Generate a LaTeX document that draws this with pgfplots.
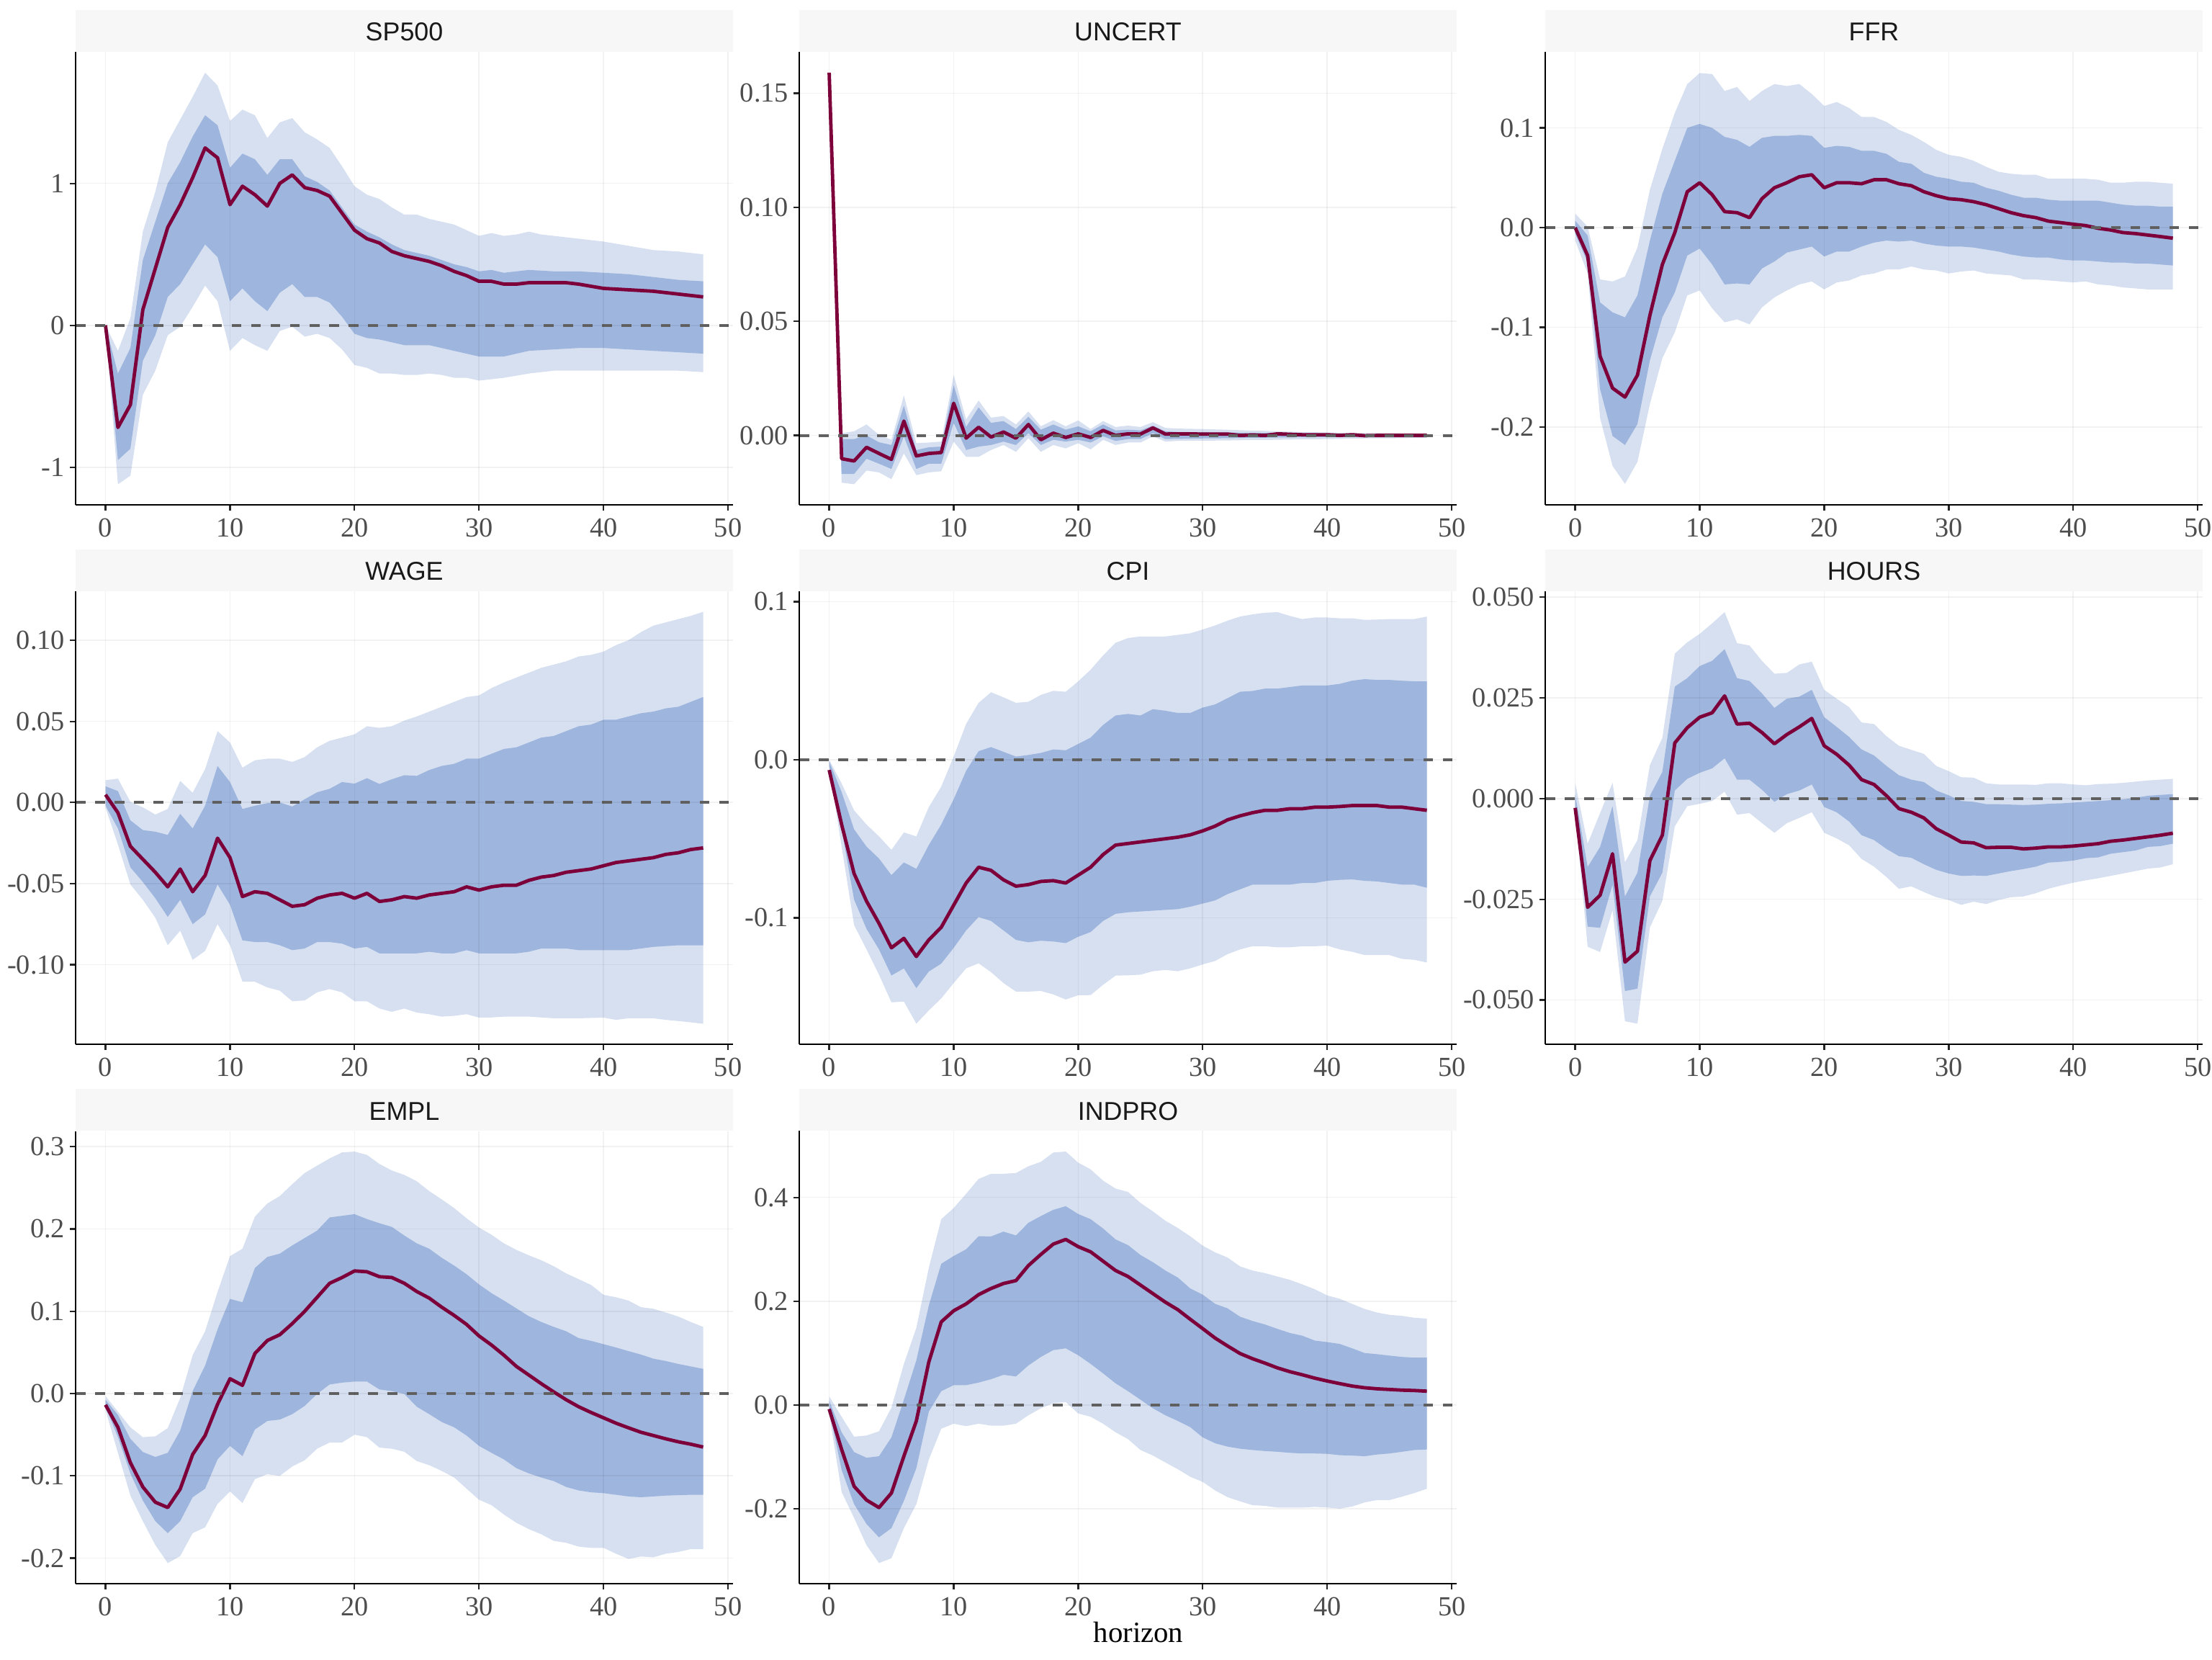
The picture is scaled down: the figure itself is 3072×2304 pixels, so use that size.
\documentclass[border=0pt]{standalone}
\usepackage{fontspec}
\setmainfont{Liberation Serif}
\newfontfamily\stripfont{Liberation Sans}
\usepackage{pgfplots}
\usepackage{pgfplotstable}
\usepgfplotslibrary{fillbetween}
\pgfplotsset{compat=1.18}
\definecolor{medc}{RGB}{125,0,58}
\definecolor{innerc}{RGB}{158,181,222}
\definecolor{outerc}{RGB}{214,224,241}
\definecolor{stripbg}{RGB}{247,247,247}
\definecolor{tickc}{RGB}{77,77,77}
\definecolor{zeroc}{RGB}{100,100,100}
\newcommand\ticfont{\fontsize{9.2bp}{10bp}\selectfont}

\pgfplotstableread{
h m l1 u1 l2 u2
0 0 0 0 0 0
1 -0.72 -0.95 -0.34 -1.12 -0.18
2 -0.56 -0.87 -0.16 -1.06 0.05
3 0.11 -0.25 0.46 -0.49 0.66
4 0.40 -0.07 0.73 -0.32 0.94
5 0.69 0.20 1.00 -0.07 1.29
6 0.85 0.29 1.15 -0.01 1.45
7 1.04 0.43 1.33 0.13 1.61
8 1.25 0.57 1.48 0.28 1.78
9 1.18 0.48 1.41 0.17 1.69
10 0.85 0.17 1.11 -0.18 1.44
11 0.98 0.26 1.21 -0.09 1.52
12 0.92 0.17 1.17 -0.14 1.48
13 0.84 0.10 1.06 -0.18 1.32
14 1.00 0.23 1.17 -0.04 1.43
15 1.06 0.29 1.17 -0.01 1.46
16 0.97 0.20 1.05 -0.08 1.36
17 0.95 0.20 1.01 -0.06 1.31
18 0.91 0.16 0.95 -0.09 1.25
19 0.79 0.06 0.83 -0.17 1.12
20 0.67 -0.06 0.71 -0.28 0.98
21 0.61 -0.09 0.66 -0.30 0.92
22 0.58 -0.10 0.62 -0.34 0.89
23 0.52 -0.12 0.57 -0.34 0.83
24 0.49 -0.14 0.53 -0.35 0.78
25 0.47 -0.14 0.51 -0.35 0.78
26 0.45 -0.14 0.49 -0.34 0.75
27 0.42 -0.16 0.46 -0.35 0.73
28 0.38 -0.18 0.43 -0.37 0.71
29 0.35 -0.20 0.41 -0.37 0.67
30 0.31 -0.22 0.38 -0.39 0.63
31 0.31 -0.22 0.39 -0.38 0.65
32 0.29 -0.22 0.37 -0.37 0.63
33 0.29 -0.20 0.38 -0.355 0.64
34 0.30 -0.18 0.39 -0.34 0.66
35 0.30 -0.175 0.385 -0.33 0.64
36 0.30 -0.17 0.38 -0.32 0.63
37 0.30 -0.165 0.38 -0.32 0.62
38 0.29 -0.16 0.38 -0.32 0.61
40 0.26 -0.16 0.37 -0.32 0.59
42 0.25 -0.17 0.36 -0.32 0.56
44 0.24 -0.18 0.34 -0.32 0.53
46 0.22 -0.19 0.32 -0.32 0.52
48 0.20 -0.20 0.31 -0.33 0.50
}\tabSP

\pgfplotstableread{
h m l1 u1 l2 u2
0 0.159 0.159 0.159 0.159 0.159
1 -0.0102 -0.0169 -0.0016 -0.0207 0.001
2 -0.0112 -0.0169 -0.0016 -0.0214 0.0018
3 -0.0052 -0.0102 0 -0.0154 0.0048
4 -0.0079 -0.0124 -0.003 -0.0162 0.0003
5 -0.0105 -0.0147 -0.0042 -0.0192 -0.0019
6 0.0063 -0.0004 0.013 -0.0079 0.0175
7 -0.009 -0.0147 -0.0064 -0.0174 -0.0034
8 -0.0079 -0.0124 -0.0052 -0.0162 -0.0031
9 -0.0075 -0.0124 -0.0049 -0.0157 -0.0027
10 0.0141 0.0055 0.022 -0.0027 0.0265
11 -0.0012 -0.0064 0.0037 -0.0094 0.007
12 0.0036 -0.0049 0.0123 -0.0094 0.0153
13 -0.0007 -0.0042 0.0055 -0.0064 0.0078
14 0.0015 -0.0027 0.0063 -0.0042 0.0085
15 -0.0012 -0.0042 0.0028 -0.0072 0.0048
16 0.0048 0.001 0.0082 -0.0012 0.0105
17 -0.0019 -0.0042 0.0025 -0.0072 0.004
18 0.001 -0.0019 0.0048 -0.0042 0.0067
19 -0.0009 -0.0027 0.0025 -0.0057 0.004
20 0.0007 -0.0019 0.004 -0.0034 0.0066
21 -0.0009 -0.0031 0.0018 -0.0061 0.0028
22 0.0022 -0.0004 0.0048 -0.0019 0.0063
23 0 -0.0024 0.0022 -0.0042 0.0037
24 0.0007 -0.0016 0.0025 -0.0031 0.0043
25 0.0006 -0.0016 0.0022 -0.0031 0.0037
26 0.0033 0.001 0.0043 -0.0004 0.0058
27 0.0006 -0.0016 0.0018 -0.0027 0.0033
28 0.0007 -0.0015 0.0015 -0.0024 0.003
30 0.0006 -0.0013 0.0014 -0.0023 0.0028
32 0.0006 -0.0012 0.0013 -0.0022 0.0025
33 0 -0.0011 0.0012 -0.0021 0.0023
34 0.0002 -0.001 0.0011 -0.002 0.0021
35 0 -0.001 0.0011 -0.002 0.002
36 0.0007 -0.0009 0.001 -0.0019 0.0018
38 0.0003 -0.0008 0.0009 -0.0017 0.0015
40 0.0003 -0.0007 0.0007 -0.0016 0.0013
41 0 -0.0007 0.0006 -0.0015 0.0012
42 0.0003 -0.0007 0.0006 -0.0014 0.0011
43 -0.0001 -0.0006 0.0005 -0.0013 0.001
44 0 -0.0006 0.0004 -0.0013 0.001
46 0 -0.0005 0.0004 -0.0012 0.0009
48 0 -0.0004 0.0003 -0.001 0.0007
}\tabUN

\pgfplotstableread{
h m l1 u1 l2 u2
0 0 -0.006 0.007 -0.013 0.014
1 -0.028 -0.035 -0.008 -0.046 0.001
2 -0.129 -0.162 -0.075 -0.191 -0.052
3 -0.161 -0.209 -0.085 -0.239 -0.054
4 -0.170 -0.218 -0.090 -0.257 -0.049
5 -0.148 -0.197 -0.068 -0.235 -0.020
6 -0.088 -0.133 -0.013 -0.177 0.038
7 -0.037 -0.090 0.034 -0.131 0.079
8 -0.005 -0.065 0.067 -0.105 0.115
9 0.036 -0.028 0.100 -0.068 0.144
10 0.045 -0.021 0.104 -0.063 0.155
11 0.033 -0.037 0.100 -0.081 0.154
12 0.016 -0.057 0.091 -0.095 0.137
13 0.015 -0.056 0.088 -0.092 0.141
14 0.010 -0.057 0.081 -0.097 0.127
15 0.029 -0.041 0.090 -0.080 0.137
16 0.040 -0.034 0.092 -0.070 0.144
17 0.045 -0.025 0.092 -0.063 0.142
18 0.051 -0.022 0.093 -0.057 0.144
19 0.053 -0.019 0.092 -0.054 0.134
20 0.040 -0.029 0.080 -0.062 0.122
21 0.045 -0.024 0.082 -0.055 0.126
22 0.045 -0.024 0.081 -0.053 0.120
23 0.044 -0.019 0.077 -0.048 0.111
24 0.048 -0.015 0.077 -0.046 0.111
25 0.048 -0.013 0.074 -0.042 0.106
26 0.044 -0.014 0.066 -0.042 0.098
27 0.042 -0.013 0.064 -0.039 0.093
28 0.036 -0.016 0.055 -0.042 0.086
29 0.032 -0.018 0.051 -0.043 0.078
30 0.029 -0.019 0.049 -0.046 0.073
31 0.028 -0.019 0.046 -0.044 0.071
32 0.026 -0.020 0.045 -0.043 0.067
33 0.023 -0.022 0.040 -0.046 0.061
34 0.019 -0.024 0.037 -0.047 0.056
35 0.015 -0.027 0.033 -0.048 0.054
36 0.012 -0.029 0.030 -0.052 0.053
37 0.010 -0.030 0.030 -0.052 0.053
38 0.0065 -0.030 0.028 -0.053 0.049
39 0.005 -0.032 0.027 -0.054 0.049
40 0.0034 -0.033 0.027 -0.055 0.049
41 0.002 -0.033 0.027 -0.054 0.049
42 -0.0007 -0.034 0.027 -0.057 0.048
43 -0.0024 -0.035 0.025 -0.058 0.045
44 -0.005 -0.035 0.023 -0.060 0.045
45 -0.006 -0.036 0.022 -0.061 0.046
46 -0.0075 -0.036 0.022 -0.062 0.046
47 -0.009 -0.037 0.021 -0.062 0.045
48 -0.0106 -0.038 0.021 -0.062 0.044
}\tabFF

\pgfplotstableread{
h m l1 u1 l2 u2
0 0.0048 -0.002 0.010 -0.003 0.0137
1 -0.0063 -0.016 0.007 -0.026 0.0147
2 -0.027 -0.040 -0.011 -0.0505 0.0004
3 -0.035 -0.049 -0.017 -0.060 -0.003
4 -0.043 -0.059 -0.018 -0.071 -0.0074
5 -0.052 -0.0705 -0.020 -0.088 -0.004
6 -0.041 -0.060 -0.007 -0.079 0.0133
7 -0.055 -0.075 -0.016 -0.097 0.006
8 -0.045 -0.069 -0.002 -0.0915 0.0206
9 -0.022 -0.0505 0.0225 -0.075 0.044
10 -0.034 -0.063 0.0126 -0.088 0.037
11 -0.058 -0.085 -0.004 -0.1105 0.0215
12 -0.055 -0.086 -0.002 -0.1105 0.026
13 -0.056 -0.086 -0.0004 -0.114 0.027
14 -0.060 -0.088 0 -0.116 0.027
15 -0.064 -0.091 -0.0025 -0.1225 0.025
16 -0.063 -0.090 0.002 -0.122 0.028
17 -0.059 -0.086 0.0063 -0.117 0.034
18 -0.057 -0.086 0.0084 -0.115 0.038
19 -0.056 -0.087 0.0126 -0.117 0.040
20 -0.059 -0.090 0.0116 -0.1225 0.042
21 -0.056 -0.089 0.015 -0.1225 0.047
22 -0.061 -0.093 0.0114 -0.127 0.046
23 -0.060 -0.093 0.0143 -0.129 0.047
24 -0.058 -0.093 0.0168 -0.127 0.0505
25 -0.059 -0.093 0.0164 -0.1295 0.053
26 -0.057 -0.092 0.020 -0.1305 0.056
27 -0.056 -0.093 0.0225 -0.132 0.059
28 -0.055 -0.093 0.0238 -0.1315 0.062
29 -0.052 -0.091 0.027 -0.1305 0.065
30 -0.054 -0.093 0.027 -0.1326 0.066
31 -0.052 -0.093 0.030 -0.1325 0.0705
32 -0.051 -0.093 0.033 -0.132 0.074
33 -0.051 -0.093 0.034 -0.132 0.077
34 -0.048 -0.092 0.037 -0.132 0.080
35 -0.046 -0.090 0.040 -0.1325 0.083
36 -0.045 -0.090 0.041 -0.133 0.085
37 -0.043 -0.090 0.044 -0.133 0.087
38 -0.042 -0.091 0.047 -0.133 0.090
39 -0.041 -0.091 0.048 -0.1328 0.091
40 -0.039 -0.091 0.051 -0.1326 0.093
41 -0.037 -0.091 0.051 -0.134 0.097
42 -0.036 -0.091 0.053 -0.133 0.100
43 -0.035 -0.090 0.055 -0.133 0.105
44 -0.034 -0.089 0.056 -0.133 0.109
45 -0.032 -0.0885 0.058 -0.134 0.111
46 -0.031 -0.088 0.059 -0.1347 0.113
47 -0.029 -0.088 0.062 -0.1355 0.115
48 -0.028 -0.088 0.065 -0.1364 0.1175
}\tabWA

\pgfplotstableread{
h m l1 u1 l2 u2
0 -0.0065 -0.004 -0.001 -0.005 0
1 -0.041 -0.044 -0.0205 -0.055 -0.015
2 -0.072 -0.0885 -0.044 -0.1046 -0.032
3 -0.0895 -0.107 -0.055 -0.120 -0.041
4 -0.1035 -0.120 -0.0625 -0.136 -0.0485
5 -0.119 -0.1365 -0.073 -0.1535 -0.057
6 -0.113 -0.132 -0.065 -0.153 -0.046
7 -0.1245 -0.1445 -0.069 -0.167 -0.0485
8 -0.114 -0.134 -0.054 -0.1586 -0.030
9 -0.106 -0.129 -0.041 -0.151 -0.017
10 -0.092 -0.119 -0.025 -0.1413 0.002
11 -0.078 -0.108 -0.007 -0.132 0.0227
12 -0.068 -0.0995 0.0054 -0.1288 0.036
13 -0.070 -0.102 0.008 -0.1344 0.0427
14 -0.076 -0.108 0.005 -0.1413 0.0395
15 -0.080 -0.114 0.002 -0.1467 0.036
16 -0.079 -0.1155 0.003 -0.1467 0.0367
17 -0.077 -0.1145 0.0043 -0.1463 0.041
18 -0.0765 -0.115 0.0065 -0.1485 0.0436
19 -0.078 -0.116 0.006 -0.1517 0.043
20 -0.073 -0.112 0.010 -0.149 0.0496
21 -0.068 -0.109 0.014 -0.1489 0.057
22 -0.060 -0.102 0.022 -0.1424 0.066
23 -0.054 -0.0975 0.028 -0.1366 0.074
24 -0.053 -0.0965 0.029 -0.1364 0.077
25 -0.052 -0.096 0.028 -0.136 0.078
26 -0.051 -0.0955 0.032 -0.1338 0.078
27 -0.050 -0.095 0.031 -0.133 0.078
28 -0.049 -0.0945 0.0296 -0.1338 0.079
29 -0.0475 -0.093 0.0296 -0.132 0.080
30 -0.045 -0.091 0.033 -0.1295 0.0824
31 -0.042 -0.089 0.035 -0.1273 0.085
32 -0.038 -0.085 0.039 -0.123 0.088
33 -0.0355 -0.082 0.043 -0.120 0.0906
34 -0.0335 -0.079 0.0435 -0.118 0.092
35 -0.032 -0.079 0.045 -0.118 0.093
36 -0.032 -0.079 0.045 -0.1187 0.0934
37 -0.031 -0.079 0.046 -0.1187 0.091
38 -0.031 -0.078 0.047 -0.118 0.089
39 -0.030 -0.078 0.047 -0.118 0.090
40 -0.030 -0.0766 0.047 -0.1176 0.090
41 -0.0296 -0.076 0.048 -0.120 0.0895
42 -0.029 -0.0757 0.050 -0.1215 0.0895
43 -0.029 -0.0766 0.051 -0.1236 0.0885
44 -0.029 -0.077 0.0505 -0.1236 0.0887
45 -0.030 -0.078 0.0505 -0.1236 0.089
46 -0.030 -0.079 0.050 -0.126 0.089
47 -0.031 -0.079 0.0496 -0.1266 0.089
48 -0.032 -0.081 0.0496 -0.1283 0.0906
}\tabCP

\pgfplotstableread{
h m l1 u1 l2 u2
0 -0.0023 -0.0027 0.001 -0.0036 0.0039
1 -0.027 -0.0318 -0.017 -0.0368 -0.0112
2 -0.024 -0.0321 -0.012 -0.0381 -0.0036
3 -0.0137 -0.0214 -0.0019 -0.0277 0.0039
4 -0.0406 -0.0478 -0.0243 -0.0553 -0.0158
5 -0.0379 -0.0472 -0.0184 -0.0559 -0.0103
6 -0.0154 -0.0243 0.0007 -0.032 0.0083
7 -0.0091 -0.0184 0.0066 -0.0254 0.0151
8 0.0138 0.002 0.0278 -0.0069 0.036
9 0.0176 0.0049 0.0299 -0.0019 0.0388
10 0.0202 0.0064 0.0329 -0.0013 0.0409
11 0.0213 0.0075 0.0342 -0.0006 0.0435
12 0.0255 0.010 0.0371 0.0017 0.0463
13 0.0185 0.0047 0.0299 -0.004 0.0386
14 0.0187 0.0047 0.0292 -0.0036 0.038
15 0.0164 0.0022 0.0261 -0.0061 0.0342
16 0.0136 -0.0008 0.0225 -0.0085 0.031
17 0.0159 0.0011 0.0248 -0.0061 0.0312
18 0.0178 0.002 0.0253 -0.0048 0.0333
19 0.0199 0.0035 0.027 -0.0034 0.034
20 0.0131 -0.0021 0.0202 -0.0085 0.027
21 0.011 -0.0034 0.0178 -0.0099 0.0248
22 0.0083 -0.0057 0.0153 -0.0116 0.0227
23 0.0047 -0.0091 0.0122 -0.015 0.0189
24 0.0035 -0.0103 0.0107 -0.0169 0.0185
25 0.0007 -0.0125 0.0081 -0.0195 0.0155
26 -0.0025 -0.0143 0.0058 -0.0224 0.0131
27 -0.0034 -0.0147 0.0047 -0.0218 0.0121
28 -0.0048 -0.0163 0.0041 -0.0232 0.0111
29 -0.0075 -0.0177 0.002 -0.0245 0.0081
30 -0.0091 -0.0186 0.0008 -0.0252 0.0068
31 -0.0108 -0.0192 -0.0006 -0.0264 0.0053
32 -0.011 -0.0191 -0.0008 -0.0256 0.0052
33 -0.0122 -0.0192 -0.0014 -0.0262 0.0038
34 -0.0121 -0.0186 -0.0014 -0.0252 0.0035
35 -0.0121 -0.018 -0.0015 -0.0245 0.0035
36 -0.0125 -0.0175 -0.0016 -0.0243 0.0035
37 -0.0123 -0.0169 -0.0015 -0.0235 0.0034
38 -0.012 -0.0159 -0.0013 -0.0224 0.0038
39 -0.012 -0.0157 -0.0012 -0.0216 0.0038
40 -0.0118 -0.0154 -0.001 -0.0209 0.0035
41 -0.0115 -0.0148 -0.0008 -0.0203 0.0033
42 -0.0112 -0.0146 -0.0006 -0.0198 0.0036
43 -0.0106 -0.0137 -0.0004 -0.0192 0.0037
44 -0.0103 -0.0133 -0.0002 -0.0186 0.0039
45 -0.0099 -0.0129 0.0002 -0.018 0.0042
46 -0.0095 -0.012 0.0007 -0.0174 0.0045
47 -0.0091 -0.0118 0.0009 -0.0171 0.0047
48 -0.0086 -0.0112 0.0011 -0.0163 0.0049
}\tabHO

\pgfplotstableread{
h m l1 u1 l2 u2
0 -0.0137 -0.016 -0.0075 -0.020 -0.003
1 -0.041 -0.053 -0.026 -0.072 -0.022
2 -0.084 -0.097 -0.055 -0.124 -0.041
3 -0.1135 -0.130 -0.071 -0.155 -0.053
4 -0.132 -0.155 -0.077 -0.184 -0.052
5 -0.1385 -0.1696 -0.072 -0.206 -0.042
6 -0.116 -0.155 -0.045 -0.1975 -0.0054
7 -0.074 -0.126 0.003 -0.1696 0.0466
8 -0.051 -0.1156 0.034 -0.1626 0.0757
9 -0.013 -0.080 0.078 -0.134 0.1235
10 0.018 -0.0636 0.115 -0.119 0.167
11 0.010 -0.076 0.111 -0.133 0.176
12 0.0487 -0.0437 0.1526 -0.104 0.215
13 0.0645 -0.0333 0.166 -0.098 0.231
14 0.0715 -0.0316 0.170 -0.100 0.240
15 0.085 -0.025 0.180 -0.0886 0.2545
16 0.100 -0.015 0.189 -0.081 0.268
17 0.117 -0.0004 0.198 -0.067 0.277
18 0.134 0.011 0.214 -0.0595 0.2857
19 0.141 0.0133 0.216 -0.0595 0.293
20 0.149 0.0146 0.218 -0.050 0.294
21 0.148 0.0146 0.212 -0.053 0.290
22 0.142 0.005 0.207 -0.0657 0.279
23 0.141 0.003 0.2025 -0.067 0.271
24 0.134 -0.0004 0.192 -0.0707 0.2657
25 0.124 -0.016 0.1825 -0.082 0.258
26 0.116 -0.025 0.176 -0.087 0.246
27 0.105 -0.0345 0.165 -0.094 0.236
28 0.095 -0.041 0.1555 -0.102 0.2254
29 0.084 -0.051 0.145 -0.1156 0.213
30 0.070 -0.0636 0.1326 -0.129 0.2017
31 0.059 -0.072 0.122 -0.1356 0.193
32 0.0466 -0.080 0.113 -0.147 0.1825
33 0.033 -0.0906 0.1035 -0.157 0.1746
34 0.0225 -0.097 0.094 -0.1647 0.168
35 0.012 -0.102 0.087 -0.171 0.162
36 0.002 -0.1064 0.081 -0.179 0.1547
37 -0.0075 -0.1135 0.0757 -0.1813 0.146
38 -0.016 -0.1177 0.0674 -0.186 0.139
39 -0.023 -0.120 0.064 -0.1875 0.132
40 -0.0295 -0.121 0.060 -0.1875 0.120
41 -0.036 -0.123 0.056 -0.1946 0.117
42 -0.0416 -0.125 0.0516 -0.201 0.113
43 -0.047 -0.126 0.0474 -0.198 0.105
44 -0.051 -0.125 0.0424 -0.199 0.103
45 -0.055 -0.124 0.0395 -0.1946 0.0985
46 -0.0586 -0.1235 0.036 -0.1925 0.0936
47 -0.0615 -0.123 0.033 -0.189 0.087
48 -0.065 -0.123 0.030 -0.189 0.081
}\tabEM

\pgfplotstableread{
h m l1 u1 l2 u2
0 -0.008 -0.010 0.008 -0.0165 0.0165
1 -0.086 -0.1254 -0.053 -0.168 -0.023
2 -0.157 -0.1914 -0.091 -0.218 -0.0614
3 -0.1835 -0.2297 -0.102 -0.2706 -0.059
4 -0.198 -0.2554 -0.099 -0.305 -0.051
5 -0.170 -0.2376 -0.0627 -0.2957 -0.0053
6 -0.099 -0.185 0.010 -0.2376 0.079
7 -0.031 -0.122 0.0858 -0.1914 0.1485
8 0.0825 -0.013 0.1914 -0.1056 0.264
9 0.160 0.0264 0.272 -0.046 0.358
10 0.1815 0.038 0.287 -0.0363 0.3795
11 0.1947 0.038 0.300 -0.041 0.407
12 0.2125 0.043 0.325 -0.0363 0.4356
13 0.2244 0.0495 0.3248 -0.040 0.4455
14 0.234 0.058 0.334 -0.040 0.4455
15 0.2396 0.0548 0.3267 -0.0363 0.447
16 0.2686 0.076 0.351 -0.020 0.460
17 0.290 0.0924 0.364 -0.0066 0.4686
18 0.310 0.1056 0.376 0.0033 0.4865
19 0.319 0.109 0.383 0.0053 0.4884
20 0.305 0.0957 0.368 -0.0165 0.467
21 0.295 0.079 0.358 -0.023 0.454
22 0.277 0.0607 0.340 -0.0363 0.4323
23 0.259 0.0416 0.319 -0.0528 0.417
24 0.2475 0.0264 0.308 -0.066 0.4106
25 0.231 0.010 0.289 -0.087 0.3894
26 0.2145 -0.0066 0.275 -0.0977 0.373
27 0.198 -0.020 0.259 -0.111 0.355
28 0.1835 -0.031 0.2455 -0.124 0.341
29 0.165 -0.043 0.2244 -0.1386 0.325
30 0.147 -0.0627 0.2125 -0.1485 0.307
31 0.1287 -0.074 0.1947 -0.165 0.294
32 0.1135 -0.0805 0.186 -0.178 0.284
33 0.099 -0.0845 0.170 -0.186 0.267
34 0.089 -0.087 0.1617 -0.1934 0.259
35 0.0805 -0.089 0.155 -0.1947 0.254
36 0.0713 -0.0904 0.1465 -0.198 0.2475
37 0.064 -0.0924 0.1386 -0.198 0.241
38 0.058 -0.0937 0.1333 -0.198 0.2323
39 0.0515 -0.0937 0.124 -0.1967 0.223
40 0.046 -0.0944 0.121 -0.198 0.211
41 0.041 -0.097 0.1175 -0.200 0.2046
42 0.0363 -0.0977 0.109 -0.196 0.1947
43 0.033 -0.099 0.100 -0.188 0.185
44 0.031 -0.0957 0.0977 -0.1835 0.178
45 0.0297 -0.0937 0.095 -0.1835 0.1736
46 0.0284 -0.0904 0.0924 -0.177 0.1716
47 0.0277 -0.087 0.091 -0.170 0.168
48 0.0264 -0.086 0.091 -0.1617 0.1663
}\tabIP

\pgfplotsset{
 irf/.style={
  scale only axis, anchor=south west,
  width=219.12bp, height=150.84bp,
  xmin=-2.4, xmax=50.4,
  xtick={0,10,20,30,40,50},
  xticklabels={0,10,20,30,40,50},
  axis x line*=bottom, axis y line*=left,
  axis line style={-, line width=0.55bp, black},
  axis on top,
  tick align=outside,
  major tick length=1.92bp,
  major tick style={line width=0.55bp, black!85},
  grid=major,
  major grid style={line width=0.4bp, draw=black, opacity=0.05},
  tick label style={font=\ticfont, text=tickc},
  xticklabel style={inner sep=0pt, yshift=-2.4bp},
  yticklabel style={inner sep=0pt, xshift=-1.5bp},
 }
}

\newcommand\irfplot[1]{%
  \addplot[draw=none, name path=ua] table[x=h,y=u2]{#1};
  \addplot[draw=none, name path=la] table[x=h,y=l2]{#1};
  \addplot[fill=outerc, draw=none] fill between[of=ua and la];
  \addplot[draw=none, name path=ub] table[x=h,y=u1]{#1};
  \addplot[draw=none, name path=lb] table[x=h,y=l1]{#1};
  \addplot[fill=innerc, draw=none] fill between[of=ub and lb];
  \addplot[medc, line width=1.15bp, line join=round] table[x=h,y=m]{#1};
  \addplot[zeroc, line width=1bp, dash pattern=on 3.25bp off 3.25bp] coordinates {(-2.4,0) (50.4,0)};
}

\newcommand\strip[3]{%
  \fill[stripbg] (#1,2304-#2-58) rectangle (#1+913,2304-#2);
  \node[anchor=base, inner sep=0pt, font=\stripfont\fontsize{8.6bp}{10bp}\selectfont, text=black!90] at (#1+456.5,2304-#2-43) {#3};
}

\begin{document}
\begin{tikzpicture}[x=0.24bp,y=0.24bp]
\path (0,0) rectangle (3072,2304);

\begin{axis}[irf, at={(25.2bp,384.72bp)}, ymin=-1.265, ymax=1.925, ytick={-1,0,1}, yticklabels={-1,0,1}]
\irfplot{\tabSP}
\end{axis}
\begin{axis}[irf, at={(266.4bp,384.72bp)}, ymin=-0.0304, ymax=0.168, ytick={0,0.05,0.1,0.15}, yticklabels={0.00,0.05,0.10,0.15}]
\irfplot{\tabUN}
\end{axis}
\begin{axis}[irf, at={(515.04bp,384.72bp)}, ymin=-0.278, ymax=0.176, ytick={-0.2,-0.1,0,0.1}, yticklabels={-0.2,-0.1,0.0,0.1}]
\irfplot{\tabFF}
\end{axis}

\begin{axis}[irf, at={(25.2bp,204.96bp)}, ymin=-0.149, ymax=0.130, ytick={-0.1,-0.05,0,0.05,0.1}, yticklabels={-0.10,-0.05,0.00,0.05,0.10}]
\irfplot{\tabWA}
\end{axis}
\begin{axis}[irf, at={(266.4bp,204.96bp)}, ymin=-0.180, ymax=0.1064, ytick={-0.1,0,0.1}, yticklabels={-0.1,0.0,0.1}]
\irfplot{\tabCP}
\end{axis}
\begin{axis}[irf, at={(515.04bp,204.96bp)}, ymin=-0.061, ymax=0.0514, ytick={-0.05,-0.025,0,0.025,0.05}, yticklabels={-0.050,-0.025,0.000,0.025,0.050}]
\irfplot{\tabHO}
\end{axis}

\begin{axis}[irf, at={(25.2bp,25.2bp)}, ymin=-0.231, ymax=0.319, ytick={-0.2,-0.1,0,0.1,0.2,0.3}, yticklabels={-0.2,-0.1,0.0,0.1,0.2,0.3}]
\irfplot{\tabEM}
\end{axis}
\begin{axis}[irf, at={(266.4bp,25.2bp)}, ymin=-0.3447, ymax=0.528, ytick={-0.2,0,0.2,0.4}, yticklabels={-0.2,0.0,0.2,0.4}]
\irfplot{\tabIP}
\end{axis}

\strip{105}{14}{SP500}
\strip{1110}{14}{UNCERT}
\strip{2146}{14}{FFR}
\strip{105}{763}{WAGE}
\strip{1110}{763}{CPI}
\strip{2146}{763}{HOURS}
\strip{105}{1512}{EMPL}
\strip{1110}{1512}{INDPRO}

\node[anchor=base, inner sep=0pt, font=\fontsize{9.8bp}{11bp}\selectfont, text=black] at (1581,24) {horizon};
\end{tikzpicture}
\end{document}
